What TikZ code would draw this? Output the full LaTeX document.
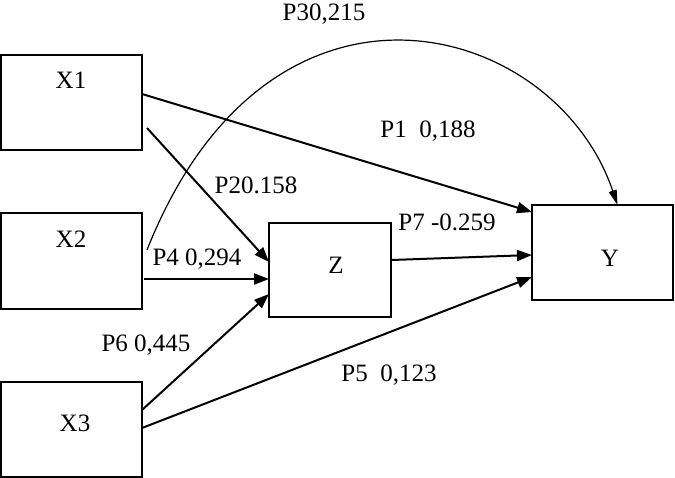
\documentclass[tikz,border=0pt]{standalone}
\usepackage{fontspec}
\setmainfont{Liberation Serif}
\usetikzlibrary{arrows.meta}
\tikzset{
  box/.style={draw, line width=2.4pt, minimum width=141pt, minimum height=95pt, inner sep=0pt, outer sep=0pt},
  lbl/.style={font=\fontsize{25}{30}\selectfont, inner sep=0pt},
  path/.style={line width=2pt, -{Triangle[length=15pt,width=11pt]}},
  curvepath/.style={line width=1.2pt, -{Triangle[length=15pt,width=8pt]}}
}
\begin{document}
\begin{tikzpicture}[x=1pt,y=-1pt]
\useasboundingbox (0,0) rectangle (675,478);
% boxes
\node[box] (x1) at (71.5,102.5) {};
\node[box, minimum height=96pt] (x2) at (71.5,261) {};
\node[box] (x3) at (71.5,429.5) {};
\node[box, minimum width=122pt, minimum height=94pt] (z) at (330,270) {};
\node[box] (y) at (602.5,252.5) {};
% box texts
\node[lbl] (x1t) at (71,80) {X1};
\node[lbl] (x2t) at (71,239) {X2};
\node[lbl] (x3t) at (75,423) {X3};
\node[lbl] (zt) at (336,265) {Z};
\node[lbl] (yt) at (610,258) {Y};
% connectors
\draw[path] ([yshift=8.5pt]x1.east) -- ([yshift=40.5pt]y.west);
\draw[path] ([xshift=5pt,yshift=-25.5pt]x1.east) -- ([yshift=8pt]z.west);
\draw[path] ([xshift=2pt,yshift=-18pt]x2.east) -- ([yshift=-9pt]z.west);
\draw[path] ([yshift=19.5pt]x3.east) -- ([yshift=-24pt]z.west);
\draw[path] ([yshift=1.5pt]x3.east) -- ([yshift=-24.5pt]y.west);
\draw[path] ([xshift=1pt,yshift=10pt]z.east) -- ([yshift=-2.5pt]y.west);
\draw[curvepath] ([xshift=5pt,yshift=11pt]x2.east) .. controls (270,-60) and (555,20) .. ([xshift=15pt]y.north);
% path labels
\node[lbl] (p3) at (324,14) {P30,215};
\node[lbl] (p1) at (428,131) {P1\ \ 0,188};
\node[lbl] (p2) at (256,185) {P20.158};
\node[lbl] (p7) at (447,222) {P7 -0.259};
\node[lbl] (p4) at (197,259) {P4 0,294};
\node[lbl] (p6) at (146,345) {P6 0,445};
\node[lbl] (p5) at (389,375) {P5\ \ 0,123};
\end{tikzpicture}
\end{document}
